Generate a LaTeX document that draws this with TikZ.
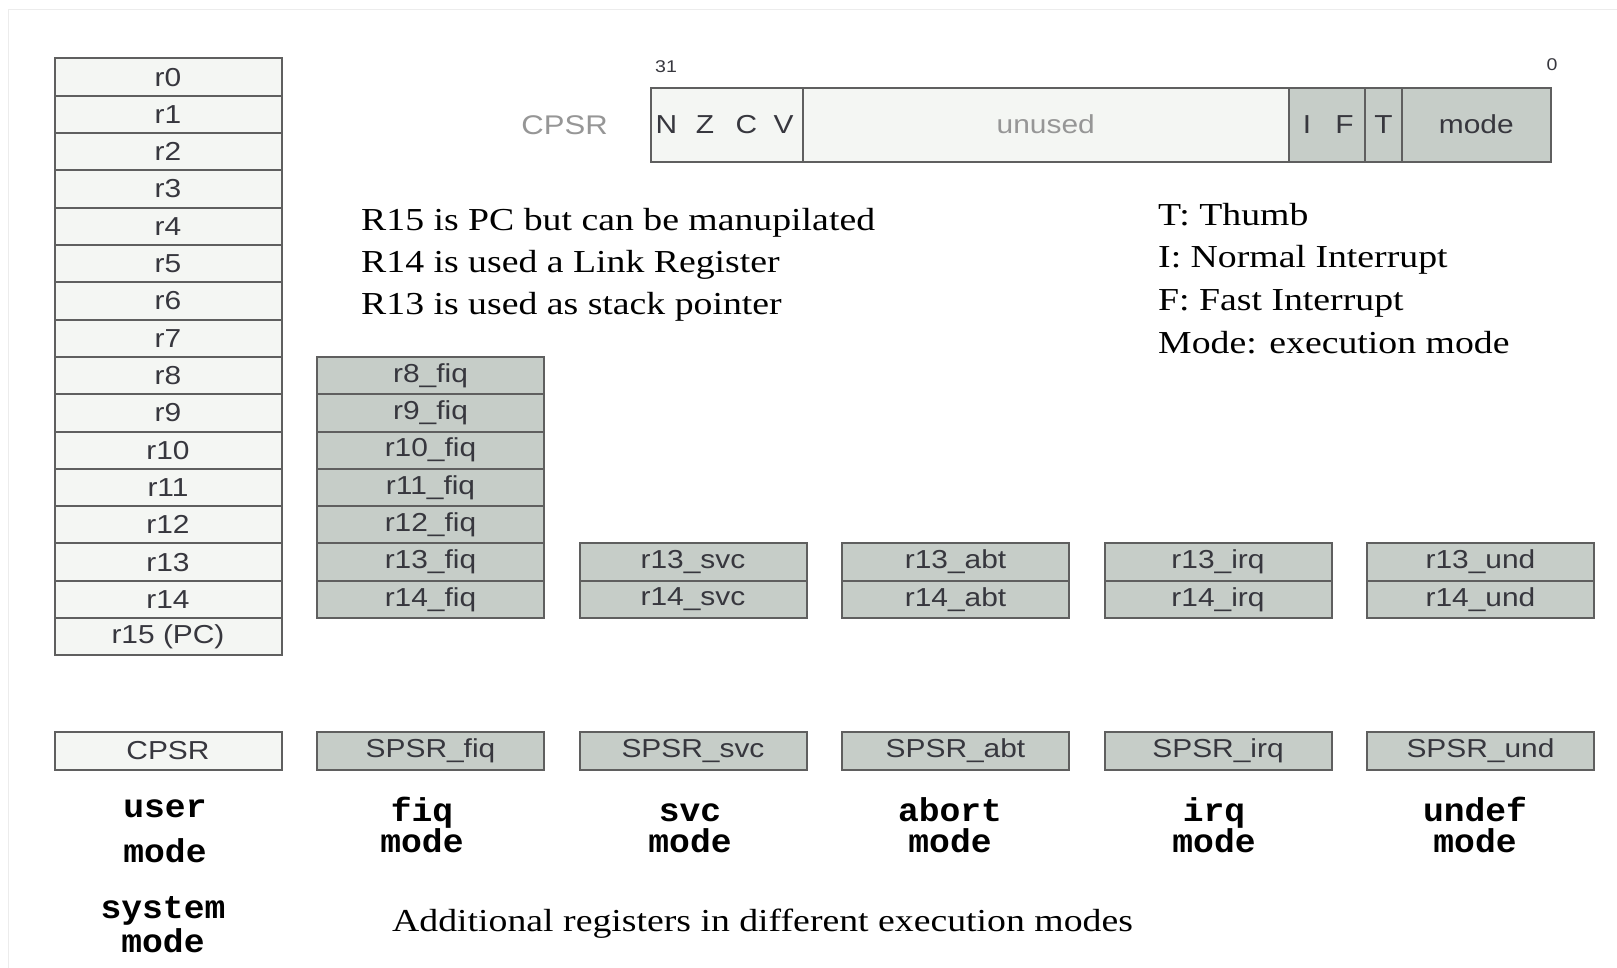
\documentclass[tikz,border=0pt]{standalone}
\usepackage{fontspec}
\setmainfont{Liberation Serif}
\newfontfamily\regfont[FakeStretch=1.15]{Liberation Sans}
\newfontfamily\notefont[FakeStretch=1.18]{Liberation Serif}
\newfontfamily\modefont[FakeStretch=1.05]{Liberation Mono}

\definecolor{cellwhite}{RGB}{244,246,243}
\definecolor{cellgray}{RGB}{198,205,200}
\definecolor{cellline}{RGB}{95,95,95}
\definecolor{regtext}{RGB}{55,55,62}
\definecolor{lighttext}{RGB}{150,150,150}
\definecolor{framegray}{RGB}{236,236,236}

\tikzset{
  cell/.style={draw=cellline, line width=2pt, inner sep=0pt, outer sep=0pt,
    text=regtext, font={\regfont\fontsize{26}{30}\selectfont}},
  wcell/.style={cell, fill=cellwhite},
  gcell/.style={cell, fill=cellgray},
  regw/.style={wcell, minimum width=227pt, minimum height=37.3pt},
  regg/.style={gcell, minimum width=227pt, minimum height=37.3pt},
  psrw/.style={wcell, minimum width=227pt, minimum height=38pt},
  psrg/.style={gcell, minimum width=227pt, minimum height=38pt},
  bartext/.style={inner sep=0pt, text=regtext, font={\regfont\fontsize{26}{30}\selectfont}},
  bitno/.style={inner sep=0pt, text=regtext, font={\regfont\fontsize{17}{20}\selectfont}},
  note/.style={inner sep=0pt, anchor=base west, font={\notefont\fontsize{32}{38}\selectfont}},
  modelbl/.style={inner sep=0pt, anchor=base, font={\modefont\bfseries\fontsize{33}{36}\selectfont}}
}

\begin{document}
\begin{tikzpicture}[x=1pt,y=-1pt]
\useasboundingbox (0,0) rectangle (1617,968);

% faint outer frame
\draw[framegray, line width=1pt] (8,968) -- (8,10) -- (1617,10);

% user / system mode register file
\foreach \k in {0,...,14}
  \node[regw] (u\k) at (168, {58.5+37.3*(\k+0.5)}) {r\k};
\node[regw] (u15) at (168, {58.5+37.3*15.5}) {r15 (PC)};

% fiq banked registers
\foreach \k in {8,...,14}
  \node[regg] (f\k) at (430.5, {58.5+37.3*(\k+0.5)}) {r\k\_fiq};

% banked r13/r14 and SPSR of the other modes
\foreach \m/\x in {svc/693, abt/955.5, irq/1218, und/1480.5} {
  \node[regg] (\m13) at (\x, {58.5+37.3*13.5}) {r13\_\m};
  \node[regg] (\m14) at (\x, {58.5+37.3*14.5}) {r14\_\m};
  \node[psrg] (sp\m) at (\x, 751) {SPSR\_\m};
}
\node[psrw] (cpsru) at (168, 751) {CPSR};
\node[psrg] (spfiq) at (430.5, 751) {SPSR\_fiq};

% CPSR bit layout
\node[wcell, minimum width=152.3pt, minimum height=74pt] (flags) at (726.85,124.7) {};
\node[wcell, minimum width=485.5pt, minimum height=74pt] (unused) at (1045.75,124.7) {};
\node[gcell, minimum width=76.5pt, minimum height=74pt] (ifbits) at (1326.75,124.7) {};
\node[gcell, minimum width=37pt, minimum height=74pt] (tbit) at (1383.5,124.7) {};
\node[gcell, minimum width=148.5pt, minimum height=74pt] (modebits) at (1476.25,124.7) {};

\node[bartext] (bn) at (666.5,124.7) {N};
\node[bartext] (bz) at (705,124.7) {Z};
\node[bartext] (bc) at (746.5,124.7) {C};
\node[bartext] (bv) at (783.5,124.7) {V};
\node[bartext, text=lighttext] (bu) at (unused.center) {unused};
\node[bartext] (bi) at (1307,124.7) {I};
\node[bartext] (bf) at (1344.5,124.7) {F};
\node[bartext] (bt) at (tbit.center) {T};
\node[bartext] (bm) at (modebits.center) {mode};

\node[bitno] (b31) at (666,66.7) {31};
\node[bitno] (b0) at (1552,64.5) {0};
\node[bartext, text=lighttext, font={\regfont\fontsize{27}{30}\selectfont}] (cpsrlbl) at (564.6,124.8) {CPSR};

% notes
\node[note] (n1) at (361,231) {R15 is PC but can be manupilated};
\node[note] (n2) at (361,273) {R14 is used a Link Register};
\node[note] (n3) at (361,314.5) {R13 is used as stack pointer};

\node[note] (l1) at (1158,226) {T: Thumb};
\node[note] (l2) at (1158,268) {I: Normal Interrupt};
\node[note] (l3) at (1158,311) {F: Fast Interrupt};
\node[note] (l4) at (1158,353) {Mode: execution mode};

\node[note] (foot) at (392,931) {Additional registers in different execution modes};

% mode captions
\node[modelbl] (mu1) at (165,817) {user};
\node[modelbl] (mu2) at (165,862) {mode};
\node[modelbl] (ms1) at (163,918) {system};
\node[modelbl] (ms2) at (163,952) {mode};
\foreach \w/\x in {fiq/422, svc/690, abort/950, irq/1214, undef/1475} {
  \node[modelbl] (c\w) at (\x,821) {\w};
  \node[modelbl] (d\w) at (\x,852) {mode};
}
\end{tikzpicture}
\end{document}
